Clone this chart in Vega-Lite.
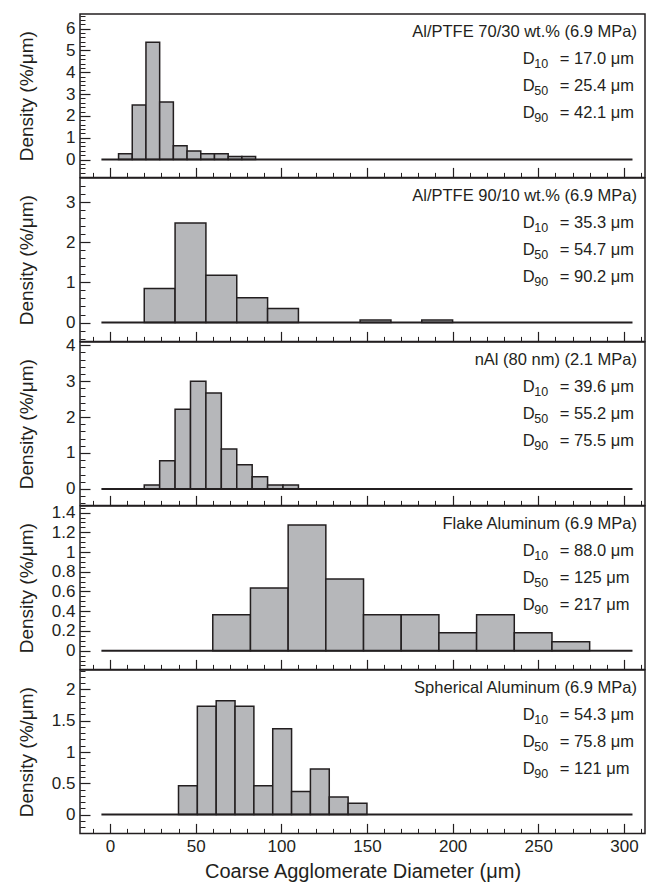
{
  "$schema": "https://vega.github.io/schema/vega-lite/v6.json",
  "padding": {"left": 16, "top": 13, "right": 0, "bottom": 0},
  "autosize": {"type": "pad"},
  "background": "white",
  "config": {
    "font": "Liberation Sans",
    "view": {"stroke": "#231f20", "strokeWidth": 1.5},
    "axis": {"grid": false, "domain": false, "labelFlush": false, "labelOverlap": false, "labelColor": "#231f20", "titleColor": "#231f20", "tickColor": "#231f20", "labelFont": "Liberation Sans", "titleFont": "Liberation Sans", "titleFontWeight": "normal", "labelFontSize": 17, "titleFontSize": 19},
    "text": {"font": "Liberation Sans", "color": "#231f20", "fontSize": 16.5, "baseline": "middle"}
  },
  "datasets": {
    "bins": [
      {"sample": "A", "lo": 5, "hi": 13, "density": 0.26},
      {"sample": "A", "lo": 13, "hi": 21, "density": 2.5},
      {"sample": "A", "lo": 21, "hi": 29, "density": 5.38},
      {"sample": "A", "lo": 29, "hi": 37, "density": 2.64},
      {"sample": "A", "lo": 37, "hi": 45, "density": 0.63},
      {"sample": "A", "lo": 45, "hi": 53, "density": 0.39},
      {"sample": "A", "lo": 53, "hi": 61, "density": 0.26},
      {"sample": "A", "lo": 61, "hi": 69, "density": 0.26},
      {"sample": "A", "lo": 69, "hi": 77, "density": 0.14},
      {"sample": "A", "lo": 77, "hi": 85, "density": 0.14},
      {"sample": "B", "lo": 20, "hi": 38, "density": 0.85},
      {"sample": "B", "lo": 38, "hi": 56, "density": 2.48},
      {"sample": "B", "lo": 56, "hi": 74, "density": 1.18},
      {"sample": "B", "lo": 74, "hi": 92, "density": 0.62},
      {"sample": "B", "lo": 92, "hi": 110, "density": 0.35},
      {"sample": "B", "lo": 146, "hi": 164, "density": 0.06},
      {"sample": "B", "lo": 182, "hi": 200, "density": 0.06},
      {"sample": "C", "lo": 20, "hi": 29, "density": 0.11},
      {"sample": "C", "lo": 29, "hi": 38, "density": 0.78},
      {"sample": "C", "lo": 38, "hi": 47, "density": 2.22},
      {"sample": "C", "lo": 47, "hi": 56, "density": 3.0},
      {"sample": "C", "lo": 56, "hi": 65, "density": 2.67},
      {"sample": "C", "lo": 65, "hi": 74, "density": 1.11},
      {"sample": "C", "lo": 74, "hi": 83, "density": 0.67},
      {"sample": "C", "lo": 83, "hi": 92, "density": 0.34},
      {"sample": "C", "lo": 92, "hi": 101, "density": 0.11},
      {"sample": "C", "lo": 101, "hi": 110, "density": 0.11},
      {"sample": "D", "lo": 60, "hi": 82, "density": 0.364},
      {"sample": "D", "lo": 82, "hi": 104, "density": 0.636},
      {"sample": "D", "lo": 104, "hi": 126, "density": 1.275},
      {"sample": "D", "lo": 126, "hi": 148, "density": 0.727},
      {"sample": "D", "lo": 148, "hi": 170, "density": 0.364},
      {"sample": "D", "lo": 170, "hi": 192, "density": 0.364},
      {"sample": "D", "lo": 192, "hi": 214, "density": 0.182},
      {"sample": "D", "lo": 214, "hi": 236, "density": 0.364},
      {"sample": "D", "lo": 236, "hi": 258, "density": 0.182},
      {"sample": "D", "lo": 258, "hi": 280, "density": 0.091},
      {"sample": "E", "lo": 40, "hi": 51, "density": 0.46},
      {"sample": "E", "lo": 51, "hi": 62, "density": 1.73},
      {"sample": "E", "lo": 62, "hi": 73, "density": 1.82},
      {"sample": "E", "lo": 73, "hi": 84, "density": 1.73},
      {"sample": "E", "lo": 84, "hi": 95, "density": 0.46},
      {"sample": "E", "lo": 95, "hi": 106, "density": 1.37},
      {"sample": "E", "lo": 106, "hi": 117, "density": 0.37},
      {"sample": "E", "lo": 117, "hi": 128, "density": 0.73},
      {"sample": "E", "lo": 128, "hi": 139, "density": 0.28},
      {"sample": "E", "lo": 139, "hi": 150, "density": 0.18}
    ],
    "notes": [
      {"sample": "A", "line": "title", "text": "Al/PTFE 70/30 wt.% (6.9 MPa)"},
      {"sample": "A", "line": "10", "text": "= 17.0 μm"},
      {"sample": "A", "line": "50", "text": "= 25.4 μm"},
      {"sample": "A", "line": "90", "text": "= 42.1 μm"},
      {"sample": "B", "line": "title", "text": "Al/PTFE 90/10 wt.% (6.9 MPa)"},
      {"sample": "B", "line": "10", "text": "= 35.3 μm"},
      {"sample": "B", "line": "50", "text": "= 54.7 μm"},
      {"sample": "B", "line": "90", "text": "= 90.2 μm"},
      {"sample": "C", "line": "title", "text": "nAl (80 nm) (2.1 MPa)"},
      {"sample": "C", "line": "10", "text": "= 39.6 μm"},
      {"sample": "C", "line": "50", "text": "= 55.2 μm"},
      {"sample": "C", "line": "90", "text": "= 75.5 μm"},
      {"sample": "D", "line": "title", "text": "Flake Aluminum (6.9 MPa)"},
      {"sample": "D", "line": "10", "text": "= 88.0 μm"},
      {"sample": "D", "line": "50", "text": "= 125 μm"},
      {"sample": "D", "line": "90", "text": "= 217 μm"},
      {"sample": "E", "line": "title", "text": "Spherical Aluminum (6.9 MPa)"},
      {"sample": "E", "line": "10", "text": "= 54.3 μm"},
      {"sample": "E", "line": "50", "text": "= 75.8 μm"},
      {"sample": "E", "line": "90", "text": "= 121 μm"}
    ]
  },
  "spacing": 0,
  "bounds": "flush",
  "resolve": {"scale": {"x": "independent", "y": "independent"}},
  "vconcat": [
    {
      "width": 565, "height": 163.4,
      "resolve": {"scale": {"y": "independent"}, "axis": {"x": "independent", "y": "independent"}},
      "layer": [
        {
          "data": {"name": "bins"},
          "transform": [{"filter": "datum.sample === 'A'"}],
          "resolve": {"axis": {"x": "independent", "y": "independent"}},
          "layer": [
            {
              "mark": {"type": "bar", "fill": "#b6b7ba", "stroke": "#231f20", "strokeWidth": 1.5},
              "encoding": {
                "x": {"field": "lo", "type": "quantitative", "scale": {"domain": [-17.5, 312.3], "nice": false, "zero": false}, "axis": {"orient": "bottom", "values": [0, 50, 100, 150, 200, 250, 300], "labels": false, "tickSize": -10, "tickWidth": 1.2, "title": null, "minExtent": 0, "maxExtent": 0}},
                "x2": {"field": "hi"},
                "y": {"field": "density", "type": "quantitative", "scale": {"domain": [-0.82, 6.67], "nice": false, "zero": false}, "axis": {"orient": "left", "values": [0, 1, 2, 3, 4, 5, 6], "format": "~g", "tickSize": -10, "tickWidth": 1.2, "labelPadding": 15, "title": "Density (%/μm)", "minExtent": 36, "maxExtent": 36, "titlePadding": 8}},
                "y2": {"datum": 0}
              }
            },
            {
              "transform": [{"aggregate": [{"op": "count", "as": "n"}]}],
              "mark": {"type": "rule", "stroke": "#231f20", "strokeWidth": 2},
              "encoding": {
                "x": {"datum": -5, "type": "quantitative", "axis": {"orient": "bottom", "values": [-10, 0, 10, 20, 30, 40, 50, 60, 70, 80, 90, 100, 110, 120, 130, 140, 150, 160, 170, 180, 190, 200, 210, 220, 230, 240, 250, 260, 270, 280, 290, 300, 310], "labels": false, "tickSize": -5, "tickWidth": 1, "title": null, "minExtent": 0, "maxExtent": 0}},
                "x2": {"datum": 305},
                "y": {"datum": 0, "type": "quantitative", "axis": {"orient": "left", "values": [-0.8, -0.6, -0.4, -0.2, 0, 0.2, 0.4, 0.6, 0.8, 1, 1.2, 1.4, 1.6, 1.8, 2, 2.2, 2.4, 2.6, 2.8, 3, 3.2, 3.4, 3.6, 3.8, 4, 4.2, 4.4, 4.6, 4.8, 5, 5.2, 5.4, 5.6, 5.8, 6, 6.2, 6.4, 6.6], "labels": false, "tickSize": -5, "tickWidth": 1, "title": null, "minExtent": 0, "maxExtent": 0}}
              }
            }
          ]
        },
        {
          "data": {"name": "notes"},
          "transform": [{"filter": "datum.sample === 'A'"}],
          "encoding": {"y": {"field": "line", "type": "ordinal", "scale": {"type": "point", "domain": ["title", "10", "50", "90"], "range": [18, 99], "padding": 0}, "axis": null}},
          "layer": [
            {"transform": [{"filter": "datum.line === 'title'"}], "mark": {"type": "text", "align": "right"}, "encoding": {"x": {"datum": 307.6, "type": "quantitative", "axis": null}, "text": {"field": "text"}}},
            {"transform": [{"filter": "datum.line !== 'title'"}], "mark": {"type": "text", "align": "left"}, "encoding": {"x": {"datum": 241, "type": "quantitative", "axis": null}, "text": {"value": "D"}}},
            {"transform": [{"filter": "datum.line !== 'title'"}], "mark": {"type": "text", "align": "left", "dx": 11.5, "dy": 5, "fontSize": 12.5}, "encoding": {"x": {"datum": 241, "type": "quantitative", "axis": null}, "text": {"field": "line"}}},
            {"transform": [{"filter": "datum.line !== 'title'"}], "mark": {"type": "text", "align": "left", "dx": 37}, "encoding": {"x": {"datum": 241, "type": "quantitative", "axis": null}, "text": {"field": "text"}}}
          ]
        }
      ]
    },
    {
      "width": 565, "height": 163.4,
      "resolve": {"scale": {"y": "independent"}, "axis": {"x": "independent", "y": "independent"}},
      "layer": [
        {
          "data": {"name": "bins"},
          "transform": [{"filter": "datum.sample === 'B'"}],
          "resolve": {"axis": {"x": "independent", "y": "independent"}},
          "layer": [
            {
              "mark": {"type": "bar", "fill": "#b6b7ba", "stroke": "#231f20", "strokeWidth": 1.5},
              "encoding": {
                "x": {"field": "lo", "type": "quantitative", "scale": {"domain": [-17.5, 312.3], "nice": false, "zero": false}, "axis": {"orient": "bottom", "values": [0, 50, 100, 150, 200, 250, 300], "labels": false, "tickSize": -10, "tickWidth": 1.2, "title": null, "minExtent": 0, "maxExtent": 0}},
                "x2": {"field": "hi"},
                "y": {"field": "density", "type": "quantitative", "scale": {"domain": [-0.47, 3.6], "nice": false, "zero": false}, "axis": {"orient": "left", "values": [0, 1, 2, 3], "format": "~g", "tickSize": -10, "tickWidth": 1.2, "labelPadding": 15, "title": "Density (%/μm)", "minExtent": 36, "maxExtent": 36, "titlePadding": 8}},
                "y2": {"datum": 0}
              }
            },
            {
              "transform": [{"aggregate": [{"op": "count", "as": "n"}]}],
              "mark": {"type": "rule", "stroke": "#231f20", "strokeWidth": 2},
              "encoding": {
                "x": {"datum": -5, "type": "quantitative", "axis": {"orient": "bottom", "values": [-10, 0, 10, 20, 30, 40, 50, 60, 70, 80, 90, 100, 110, 120, 130, 140, 150, 160, 170, 180, 190, 200, 210, 220, 230, 240, 250, 260, 270, 280, 290, 300, 310], "labels": false, "tickSize": -5, "tickWidth": 1, "title": null, "minExtent": 0, "maxExtent": 0}},
                "x2": {"datum": 305},
                "y": {"datum": 0, "type": "quantitative", "axis": {"orient": "left", "values": [-0.4, -0.2, 0, 0.2, 0.4, 0.6, 0.8, 1, 1.2, 1.4, 1.6, 1.8, 2, 2.2, 2.4, 2.6, 2.8, 3, 3.2, 3.4], "labels": false, "tickSize": -5, "tickWidth": 1, "title": null, "minExtent": 0, "maxExtent": 0}}
              }
            }
          ]
        },
        {
          "data": {"name": "notes"},
          "transform": [{"filter": "datum.sample === 'B'"}],
          "encoding": {"y": {"field": "line", "type": "ordinal", "scale": {"type": "point", "domain": ["title", "10", "50", "90"], "range": [18, 99], "padding": 0}, "axis": null}},
          "layer": [
            {"transform": [{"filter": "datum.line === 'title'"}], "mark": {"type": "text", "align": "right"}, "encoding": {"x": {"datum": 307.6, "type": "quantitative", "axis": null}, "text": {"field": "text"}}},
            {"transform": [{"filter": "datum.line !== 'title'"}], "mark": {"type": "text", "align": "left"}, "encoding": {"x": {"datum": 241, "type": "quantitative", "axis": null}, "text": {"value": "D"}}},
            {"transform": [{"filter": "datum.line !== 'title'"}], "mark": {"type": "text", "align": "left", "dx": 11.5, "dy": 5, "fontSize": 12.5}, "encoding": {"x": {"datum": 241, "type": "quantitative", "axis": null}, "text": {"field": "line"}}},
            {"transform": [{"filter": "datum.line !== 'title'"}], "mark": {"type": "text", "align": "left", "dx": 37}, "encoding": {"x": {"datum": 241, "type": "quantitative", "axis": null}, "text": {"field": "text"}}}
          ]
        }
      ]
    },
    {
      "width": 565, "height": 163.4,
      "resolve": {"scale": {"y": "independent"}, "axis": {"x": "independent", "y": "independent"}},
      "layer": [
        {
          "data": {"name": "bins"},
          "transform": [{"filter": "datum.sample === 'C'"}],
          "resolve": {"axis": {"x": "independent", "y": "independent"}},
          "layer": [
            {
              "mark": {"type": "bar", "fill": "#b6b7ba", "stroke": "#231f20", "strokeWidth": 1.5},
              "encoding": {
                "x": {"field": "lo", "type": "quantitative", "scale": {"domain": [-17.5, 312.3], "nice": false, "zero": false}, "axis": {"orient": "bottom", "values": [0, 50, 100, 150, 200, 250, 300], "labels": false, "tickSize": -10, "tickWidth": 1.2, "title": null, "minExtent": 0, "maxExtent": 0}},
                "x2": {"field": "hi"},
                "y": {"field": "density", "type": "quantitative", "scale": {"domain": [-0.46, 4.09], "nice": false, "zero": false}, "axis": {"orient": "left", "values": [0, 1, 2, 3, 4], "format": "~g", "tickSize": -10, "tickWidth": 1.2, "labelPadding": 15, "title": "Density (%/μm)", "minExtent": 36, "maxExtent": 36, "titlePadding": 8}},
                "y2": {"datum": 0}
              }
            },
            {
              "transform": [{"aggregate": [{"op": "count", "as": "n"}]}],
              "mark": {"type": "rule", "stroke": "#231f20", "strokeWidth": 2},
              "encoding": {
                "x": {"datum": -5, "type": "quantitative", "axis": {"orient": "bottom", "values": [-10, 0, 10, 20, 30, 40, 50, 60, 70, 80, 90, 100, 110, 120, 130, 140, 150, 160, 170, 180, 190, 200, 210, 220, 230, 240, 250, 260, 270, 280, 290, 300, 310], "labels": false, "tickSize": -5, "tickWidth": 1, "title": null, "minExtent": 0, "maxExtent": 0}},
                "x2": {"datum": 305},
                "y": {"datum": 0, "type": "quantitative", "axis": {"orient": "left", "values": [-0.4, -0.2, 0, 0.2, 0.4, 0.6, 0.8, 1, 1.2, 1.4, 1.6, 1.8, 2, 2.2, 2.4, 2.6, 2.8, 3, 3.2, 3.4, 3.6, 3.8, 4], "labels": false, "tickSize": -5, "tickWidth": 1, "title": null, "minExtent": 0, "maxExtent": 0}}
              }
            }
          ]
        },
        {
          "data": {"name": "notes"},
          "transform": [{"filter": "datum.sample === 'C'"}],
          "encoding": {"y": {"field": "line", "type": "ordinal", "scale": {"type": "point", "domain": ["title", "10", "50", "90"], "range": [18, 99], "padding": 0}, "axis": null}},
          "layer": [
            {"transform": [{"filter": "datum.line === 'title'"}], "mark": {"type": "text", "align": "right"}, "encoding": {"x": {"datum": 307.6, "type": "quantitative", "axis": null}, "text": {"field": "text"}}},
            {"transform": [{"filter": "datum.line !== 'title'"}], "mark": {"type": "text", "align": "left"}, "encoding": {"x": {"datum": 241, "type": "quantitative", "axis": null}, "text": {"value": "D"}}},
            {"transform": [{"filter": "datum.line !== 'title'"}], "mark": {"type": "text", "align": "left", "dx": 11.5, "dy": 5, "fontSize": 12.5}, "encoding": {"x": {"datum": 241, "type": "quantitative", "axis": null}, "text": {"field": "line"}}},
            {"transform": [{"filter": "datum.line !== 'title'"}], "mark": {"type": "text", "align": "left", "dx": 37}, "encoding": {"x": {"datum": 241, "type": "quantitative", "axis": null}, "text": {"field": "text"}}}
          ]
        }
      ]
    },
    {
      "width": 565, "height": 163.4,
      "resolve": {"scale": {"y": "independent"}, "axis": {"x": "independent", "y": "independent"}},
      "layer": [
        {
          "data": {"name": "bins"},
          "transform": [{"filter": "datum.sample === 'D'"}],
          "resolve": {"axis": {"x": "independent", "y": "independent"}},
          "layer": [
            {
              "mark": {"type": "bar", "fill": "#b6b7ba", "stroke": "#231f20", "strokeWidth": 1.5},
              "encoding": {
                "x": {"field": "lo", "type": "quantitative", "scale": {"domain": [-17.5, 312.3], "nice": false, "zero": false}, "axis": {"orient": "bottom", "values": [0, 50, 100, 150, 200, 250, 300], "labels": false, "tickSize": -10, "tickWidth": 1.2, "title": null, "minExtent": 0, "maxExtent": 0}},
                "x2": {"field": "hi"},
                "y": {"field": "density", "type": "quantitative", "scale": {"domain": [-0.19, 1.467], "nice": false, "zero": false}, "axis": {"orient": "left", "values": [0, 0.2, 0.4, 0.6, 0.8, 1, 1.2, 1.4], "format": "~g", "tickSize": -10, "tickWidth": 1.2, "labelPadding": 15, "title": "Density (%/μm)", "minExtent": 36, "maxExtent": 36, "titlePadding": 8}},
                "y2": {"datum": 0}
              }
            },
            {
              "transform": [{"aggregate": [{"op": "count", "as": "n"}]}],
              "mark": {"type": "rule", "stroke": "#231f20", "strokeWidth": 2},
              "encoding": {
                "x": {"datum": -5, "type": "quantitative", "axis": {"orient": "bottom", "values": [-10, 0, 10, 20, 30, 40, 50, 60, 70, 80, 90, 100, 110, 120, 130, 140, 150, 160, 170, 180, 190, 200, 210, 220, 230, 240, 250, 260, 270, 280, 290, 300, 310], "labels": false, "tickSize": -5, "tickWidth": 1, "title": null, "minExtent": 0, "maxExtent": 0}},
                "x2": {"datum": 305},
                "y": {"datum": 0, "type": "quantitative", "axis": {"orient": "left", "values": [-0.15, -0.1, -0.05, 0, 0.05, 0.1, 0.15, 0.2, 0.25, 0.3, 0.35, 0.4, 0.45, 0.5, 0.55, 0.6, 0.65, 0.7, 0.75, 0.8, 0.85, 0.9, 0.95, 1, 1.05, 1.1, 1.15, 1.2, 1.25, 1.3, 1.35, 1.4, 1.45], "labels": false, "tickSize": -5, "tickWidth": 1, "title": null, "minExtent": 0, "maxExtent": 0}}
              }
            }
          ]
        },
        {
          "data": {"name": "notes"},
          "transform": [{"filter": "datum.sample === 'D'"}],
          "encoding": {"y": {"field": "line", "type": "ordinal", "scale": {"type": "point", "domain": ["title", "10", "50", "90"], "range": [18, 99], "padding": 0}, "axis": null}},
          "layer": [
            {"transform": [{"filter": "datum.line === 'title'"}], "mark": {"type": "text", "align": "right"}, "encoding": {"x": {"datum": 307.6, "type": "quantitative", "axis": null}, "text": {"field": "text"}}},
            {"transform": [{"filter": "datum.line !== 'title'"}], "mark": {"type": "text", "align": "left"}, "encoding": {"x": {"datum": 241, "type": "quantitative", "axis": null}, "text": {"value": "D"}}},
            {"transform": [{"filter": "datum.line !== 'title'"}], "mark": {"type": "text", "align": "left", "dx": 11.5, "dy": 5, "fontSize": 12.5}, "encoding": {"x": {"datum": 241, "type": "quantitative", "axis": null}, "text": {"field": "line"}}},
            {"transform": [{"filter": "datum.line !== 'title'"}], "mark": {"type": "text", "align": "left", "dx": 37}, "encoding": {"x": {"datum": 241, "type": "quantitative", "axis": null}, "text": {"field": "text"}}}
          ]
        }
      ]
    },
    {
      "width": 565, "height": 163.4,
      "resolve": {"scale": {"y": "independent"}, "axis": {"x": "independent", "y": "independent"}},
      "layer": [
        {
          "data": {"name": "bins"},
          "transform": [{"filter": "datum.sample === 'E'"}],
          "resolve": {"axis": {"x": "independent", "y": "independent"}},
          "layer": [
            {
              "mark": {"type": "bar", "fill": "#b6b7ba", "stroke": "#231f20", "strokeWidth": 1.5},
              "encoding": {
                "x": {"field": "lo", "type": "quantitative", "scale": {"domain": [-17.5, 312.3], "nice": false, "zero": false}, "axis": {"orient": "bottom", "values": [0, 50, 100, 150, 200, 250, 300], "labels": true, "labelPadding": 15, "tickSize": -10, "tickWidth": 1.2, "title": "Coarse Agglomerate Diameter (μm)", "titleFontSize": 20, "minExtent": 22, "maxExtent": 22, "titlePadding": 6}},
                "x2": {"field": "hi"},
                "y": {"field": "density", "type": "quantitative", "scale": {"domain": [-0.3, 2.31], "nice": false, "zero": false}, "axis": {"orient": "left", "values": [0, 0.5, 1, 1.5, 2], "format": "~g", "tickSize": -10, "tickWidth": 1.2, "labelPadding": 15, "title": "Density (%/μm)", "minExtent": 36, "maxExtent": 36, "titlePadding": 8}},
                "y2": {"datum": 0}
              }
            },
            {
              "transform": [{"aggregate": [{"op": "count", "as": "n"}]}],
              "mark": {"type": "rule", "stroke": "#231f20", "strokeWidth": 2},
              "encoding": {
                "x": {"datum": -5, "type": "quantitative", "axis": {"orient": "bottom", "values": [-10, 0, 10, 20, 30, 40, 50, 60, 70, 80, 90, 100, 110, 120, 130, 140, 150, 160, 170, 180, 190, 200, 210, 220, 230, 240, 250, 260, 270, 280, 290, 300, 310], "labels": false, "tickSize": -5, "tickWidth": 1, "title": null, "minExtent": 0, "maxExtent": 0}},
                "x2": {"datum": 305},
                "y": {"datum": 0, "type": "quantitative", "axis": {"orient": "left", "values": [-0.2, -0.1, 0, 0.1, 0.2, 0.3, 0.4, 0.5, 0.6, 0.7, 0.8, 0.9, 1, 1.1, 1.2, 1.3, 1.4, 1.5, 1.6, 1.7, 1.8, 1.9, 2, 2.1, 2.2, 2.3], "labels": false, "tickSize": -5, "tickWidth": 1, "title": null, "minExtent": 0, "maxExtent": 0}}
              }
            }
          ]
        },
        {
          "data": {"name": "notes"},
          "transform": [{"filter": "datum.sample === 'E'"}],
          "encoding": {"y": {"field": "line", "type": "ordinal", "scale": {"type": "point", "domain": ["title", "10", "50", "90"], "range": [18, 99], "padding": 0}, "axis": null}},
          "layer": [
            {"transform": [{"filter": "datum.line === 'title'"}], "mark": {"type": "text", "align": "right"}, "encoding": {"x": {"datum": 307.6, "type": "quantitative", "axis": null}, "text": {"field": "text"}}},
            {"transform": [{"filter": "datum.line !== 'title'"}], "mark": {"type": "text", "align": "left"}, "encoding": {"x": {"datum": 241, "type": "quantitative", "axis": null}, "text": {"value": "D"}}},
            {"transform": [{"filter": "datum.line !== 'title'"}], "mark": {"type": "text", "align": "left", "dx": 11.5, "dy": 5, "fontSize": 12.5}, "encoding": {"x": {"datum": 241, "type": "quantitative", "axis": null}, "text": {"field": "line"}}},
            {"transform": [{"filter": "datum.line !== 'title'"}], "mark": {"type": "text", "align": "left", "dx": 37}, "encoding": {"x": {"datum": 241, "type": "quantitative", "axis": null}, "text": {"field": "text"}}}
          ]
        }
      ]
    }
  ]
}
